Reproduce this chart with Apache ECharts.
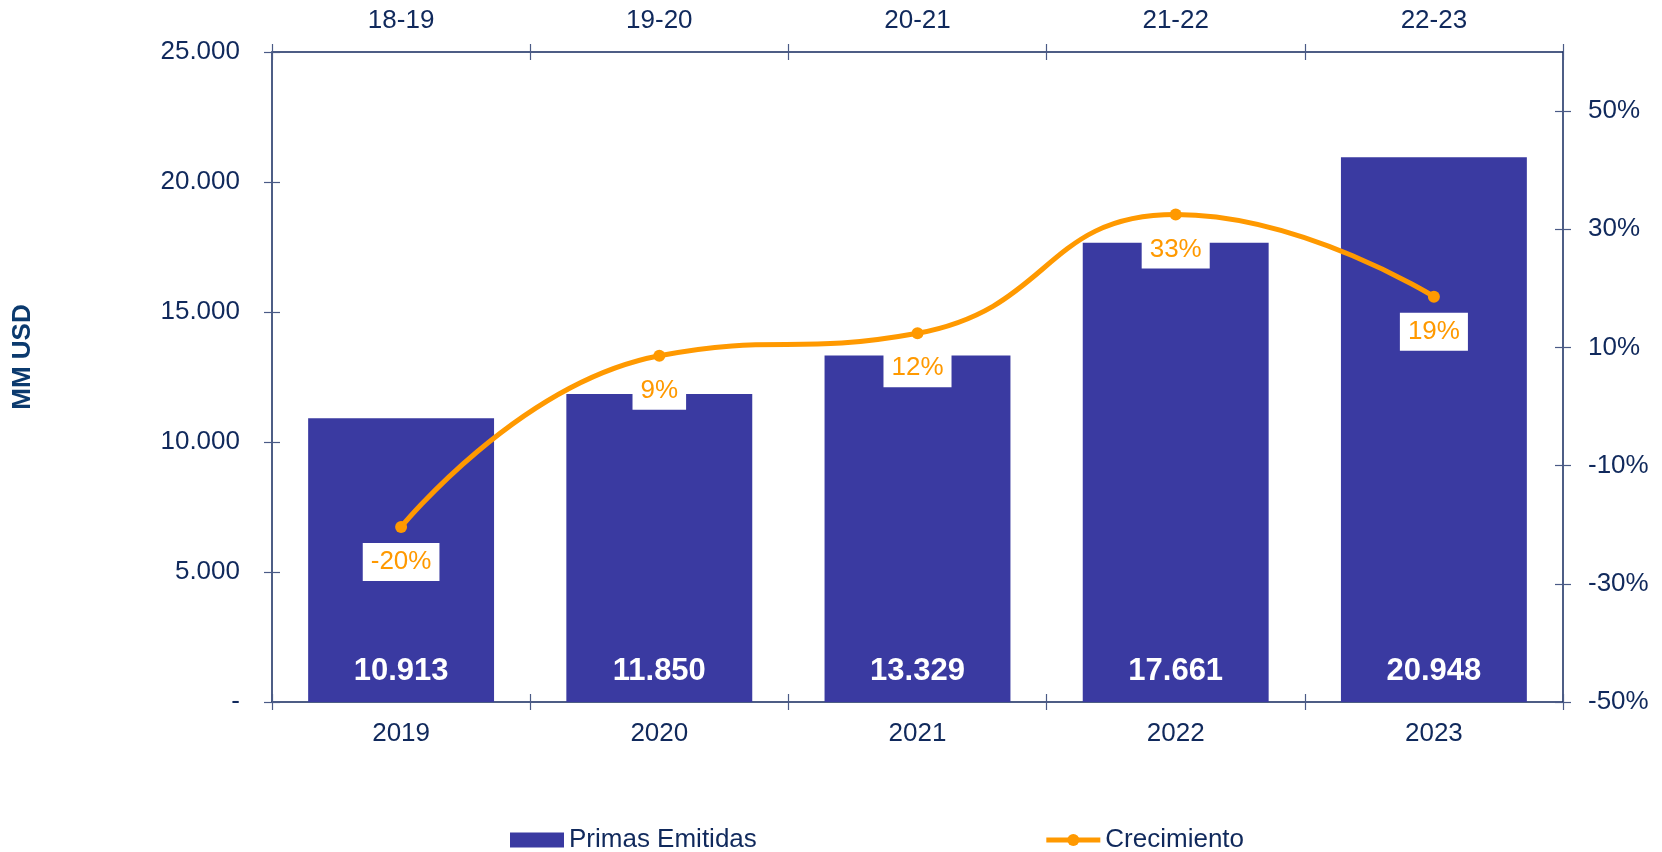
<!DOCTYPE html>
<html>
<head>
<meta charset="utf-8">
<script src="https://cdn.jsdelivr.net/npm/echarts@6/dist/echarts.min.js"></script>
<style>
html,body{margin:0;padding:0;background:#fff;}
#chart{width:1662px;height:852px;}
</style>
</head>
<body>
<div id="chart"></div>
<script>
// ---- data ----
const years = ['2019', '2020', '2021', '2022', '2023'];
const periods = ['18-19', '19-20', '20-21', '21-22', '22-23'];
const primasEmitidas = [10913, 11850, 13329, 17661, 20948];
const crecimiento = [-20.4, 8.6, 12.4, 32.5, 18.6];
const leftTicks = [0, 5000, 10000, 15000, 20000, 25000];
const rightTicks = [-50, -30, -10, 10, 30, 50];

// ---- style ----
const FONT = 'Liberation Sans, Arial, sans-serif';
const NAVY = '#10295c';
const AXIS = '#13295e';
const TICK = '#4a5a86';
const BAR = '#3a3aa1';
const ORANGE = '#ff9900';

function thousands(v) {
  if (v === 0) return '-';
  return String(Math.round(v)).replace(/\B(?=(\d{3})+(?!\d))/g, '.');
}

const chart = echarts.init(document.getElementById('chart'));

const tickStyle = { color: TICK, width: 1.2 };
const baseX = {
  type: 'category',
  boundaryGap: true,
  axisLine: { show: true, onZero: false, lineStyle: { color: AXIS, width: 1.5 } },
  axisTick: { show: true, alignWithLabel: false, length: 8, lineStyle: tickStyle },
  axisLabel: { color: NAVY, fontFamily: FONT, fontSize: 26 },
  splitLine: { show: false }
};

chart.setOption({
  animation: false,
  backgroundColor: '#ffffff',
  grid: { left: 272, right: 99, top: 52, bottom: 150, containLabel: false },
  legend: {
    left: 510,
    top: 827,
    padding: 0,
    itemWidth: 54,
    itemHeight: 15,
    itemGap: 287,
    textStyle: { color: NAVY, fontFamily: FONT, fontSize: 26 },
    data: [
      { name: 'Primas Emitidas', icon: 'rect' },
      { name: 'Crecimiento', lineStyle: { width: 5, color: ORANGE }, itemStyle: { color: ORANGE } }
    ]
  },
  graphic: [{
    type: 'text',
    x: 23, y: 357,
    rotation: Math.PI / 2,
    style: {
      text: 'MM USD',
      fill: '#0b3a6e',
      font: 'bold 26px ' + FONT,
      textAlign: 'center',
      textVerticalAlign: 'middle'
    }
  }],
  xAxis: [
    Object.assign({}, baseX, {
      position: 'bottom', data: years,
      axisLabel: Object.assign({}, baseX.axisLabel, { margin: 19 })
    }),
    Object.assign({}, baseX, {
      position: 'top', data: periods,
      axisLabel: Object.assign({}, baseX.axisLabel, { margin: 18 })
    }),
    // duplicates giving the inner half of the crossing ticks
    Object.assign({}, baseX, {
      position: 'bottom', data: years, axisLine: { show: false, onZero: false },
      axisLabel: { show: false },
      axisTick: { show: true, inside: true, length: 8, lineStyle: tickStyle }
    }),
    Object.assign({}, baseX, {
      position: 'top', data: periods, axisLine: { show: false, onZero: false },
      axisLabel: { show: false },
      axisTick: { show: true, inside: true, length: 8, lineStyle: tickStyle }
    })
  ],
  yAxis: [
    {
      type: 'value', position: 'left', min: 0, max: 25000, interval: 5000,
      axisLine: { show: true, onZero: false, lineStyle: { color: AXIS, width: 1.5 } },
      axisTick: { show: true, length: 8, lineStyle: tickStyle },
      axisLabel: { color: NAVY, fontFamily: FONT, fontSize: 26, margin: 32, formatter: thousands },
      splitLine: { show: false }
    },
    {
      type: 'value', position: 'right', min: -50, max: 60,
      axisLine: { show: true, onZero: false, lineStyle: { color: AXIS, width: 1.5 } },
      axisTick: { show: true, length: 8, customValues: rightTicks, lineStyle: tickStyle },
      axisLabel: { color: NAVY, fontFamily: FONT, fontSize: 26, margin: 25, customValues: rightTicks,
        formatter: v => v + '%' },
      splitLine: { show: false }
    },
    {
      type: 'value', position: 'left', min: 0, max: 25000, interval: 5000,
      axisLine: { show: false, onZero: false }, axisLabel: { show: false }, splitLine: { show: false },
      axisTick: { show: true, inside: true, length: 8, lineStyle: tickStyle }
    },
    {
      type: 'value', position: 'right', min: -50, max: 60,
      axisLine: { show: false, onZero: false }, axisLabel: { show: false }, splitLine: { show: false },
      axisTick: { show: true, inside: true, length: 8, customValues: rightTicks, lineStyle: tickStyle }
    }
  ],
  series: [
    {
      name: 'Primas Emitidas',
      type: 'bar',
      xAxisIndex: 0,
      yAxisIndex: 0,
      data: primasEmitidas,
      barCategoryGap: '28%',
      itemStyle: { color: BAR },
      label: {
        show: true,
        position: 'insideBottom',
        distance: 15,
        color: '#ffffff',
        fontFamily: FONT,
        fontWeight: 'bold',
        fontSize: 31,
        formatter: p => thousands(p.value)
      },
      z: 2
    },
    {
      name: 'Crecimiento',
      type: 'line',
      xAxisIndex: 0,
      yAxisIndex: 1,
      data: crecimiento,
      smooth: 0.5,
      symbol: 'circle',
      symbolSize: 12,
      lineStyle: { color: ORANGE, width: 5 },
      itemStyle: { color: ORANGE },
      label: {
        show: true,
        position: 'bottom',
        distance: 10,
        color: ORANGE,
        fontFamily: FONT,
        fontSize: 26,
        backgroundColor: '#ffffff',
        padding: [6, 8, 6, 8],
        formatter: p => Math.round(p.value) + '%'
      },
      z: 5
    }
  ]
});
</script>
</body>
</html>
